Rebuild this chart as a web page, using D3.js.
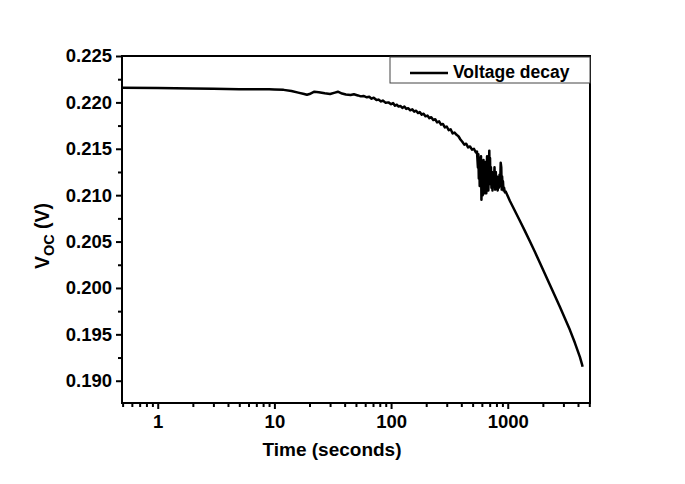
<!DOCTYPE html>
<html>
<head>
<meta charset="utf-8">
<title>Voltage decay</title>
<script src="https://d3js.org/d3.v7.min.js"></script>
<style>
body { margin: 0; background: #fff; }
text { font-family: "Liberation Sans", Arial, sans-serif; font-weight: bold; }
</style>
</head>
<body>
<div id="chart"></div>
<script>
// data
var times = [0.5, 1, 2, 3, 5, 7, 9, 10, 12, 14, 16, 18, 19, 20, 22, 24, 27, 30, 33, 35, 38, 41, 45, 48, 52, 55, 58, 62, 65, 68, 71, 75, 78, 82, 85, 90, 95,
  100, 104, 108, 112, 116, 120, 125, 130, 135, 140, 146, 152, 158, 164, 170, 176, 183, 190, 197, 205, 213, 221, 230, 239, 248, 258, 268, 278, 289, 300, 312, 324, 337, 350, 364, 378, 393, 408, 424, 440, 457, 475, 494, 513, 533, 545,
  555, 560, 565, 570, 575, 580, 585, 590, 595, 600, 605, 610, 615, 620, 625, 630, 635, 640, 645, 650, 655, 660, 665, 670, 675, 682, 690, 695, 700, 705, 710, 718, 725, 732, 740, 750, 760, 770, 780, 790, 800, 810, 820, 830, 840, 850, 860, 870, 880, 888, 895, 903, 910, 920, 930, 945, 960,
  1044, 1153, 1273, 1405, 1551, 1711, 1889, 2085, 2301, 2540, 2802, 3093, 3414, 3768, 4158, 4325, 4380];
var voltage = [0.22158, 0.22155, 0.22150, 0.22146, 0.22142, 0.22141, 0.22142, 0.22140, 0.22135, 0.22123, 0.22105, 0.22090, 0.22082, 0.22090, 0.22115, 0.22110, 0.22098, 0.22090, 0.22105, 0.22115, 0.22095, 0.22085, 0.22080, 0.22088, 0.22075, 0.22065, 0.22070, 0.22055, 0.22060, 0.22040, 0.22050, 0.22025, 0.22030, 0.22010, 0.22020, 0.21995, 0.22000,
  0.21980, 0.21992, 0.21965, 0.21975, 0.21955, 0.21962, 0.21940, 0.21955, 0.21930, 0.21938, 0.21915, 0.21925, 0.21900, 0.21910, 0.21885, 0.21895, 0.21868, 0.21878, 0.21850, 0.21858, 0.21830, 0.21840, 0.21810, 0.21818, 0.21785, 0.21795, 0.21760, 0.21768, 0.21730, 0.21740, 0.21700, 0.21710, 0.21665, 0.21675, 0.21650, 0.21635, 0.21600, 0.21575, 0.21545, 0.21555, 0.21515, 0.21525, 0.21490, 0.21500, 0.21460, 0.21470,
  0.21300, 0.21440, 0.21180, 0.21400, 0.21100, 0.21350, 0.21200, 0.21420, 0.20950, 0.21250, 0.21300, 0.21000, 0.21150, 0.21380, 0.21080, 0.21300, 0.21020, 0.21250, 0.21100, 0.21360, 0.21020, 0.21200, 0.21420, 0.21100, 0.21300, 0.21050, 0.21320, 0.21480, 0.21150, 0.21400, 0.21120, 0.21300, 0.21080, 0.21250, 0.21050, 0.21220, 0.21120, 0.21300, 0.21060, 0.21250, 0.21080, 0.21200, 0.21050, 0.21180, 0.21080, 0.21220, 0.21100, 0.21350, 0.21300, 0.21060, 0.21200, 0.21080, 0.21150, 0.21050, 0.21080, 0.21030, 0.21040,
  0.20937, 0.20829, 0.20721, 0.20613, 0.20500, 0.20387, 0.20269, 0.20150, 0.20031, 0.19913, 0.19794, 0.19670, 0.19546, 0.19406, 0.19255, 0.19180, 0.19150];
var xTicks = [1, 10, 100, 1000];
var yTicks = [0.190, 0.195, 0.200, 0.205, 0.210, 0.215, 0.220, 0.225];
var seriesName = "Voltage decay";

var data = times.map(function(t, i) { return {t: t, v: voltage[i]}; });

var margin = {top: 56, right: 95, bottom: 81, left: 122},
    width = 685 - margin.left - margin.right,
    height = 484 - margin.top - margin.bottom;

var svg = d3.select("#chart").append("svg")
    .attr("width", 685)
    .attr("height", 484)
  .append("g")
    .attr("transform", "translate(" + margin.left + "," + margin.top + ")");

var x = d3.scaleLog().domain([0.494, 5070]).range([0, width]);
var y = d3.scaleLinear().domain([0.1876, 0.225]).range([height, 0]);

// minor ticks
var xMinor = [];
[0.1, 1, 10, 100, 1000].forEach(function(d) {
  for (var k = 2; k <= 9; k++) {
    var v = d * k;
    if (v >= 0.494 && v <= 5070) xMinor.push(v);
  }
});
var yMinor = yTicks.slice(0, -1).map(function(d) { return d + 0.0025; });

svg.append("g")
    .attr("transform", "translate(0," + height + ")")
    .call(d3.axisBottom(x).tickValues(xMinor).tickSize(4).tickFormat(""))
    .call(function(g) { g.select(".domain").remove(); g.selectAll("line").attr("stroke-width", 2); });

svg.append("g")
    .call(d3.axisLeft(y).tickValues(yMinor).tickSize(4).tickFormat(""))
    .call(function(g) { g.select(".domain").remove(); g.selectAll("line").attr("stroke-width", 2); });

var xAxis = svg.append("g")
    .attr("transform", "translate(0," + height + ")")
    .call(d3.axisBottom(x).tickValues(xTicks).tickSize(6).tickPadding(6).tickFormat(d3.format("d")));
xAxis.select(".domain").remove();
xAxis.selectAll("line").attr("stroke-width", 2);
xAxis.selectAll("text").style("font-size", "18.5px").attr("fill", "#000");

var yAxis = svg.append("g")
    .call(d3.axisLeft(y).tickValues(yTicks).tickSize(6).tickPadding(4).tickFormat(d3.format(".3f")));
yAxis.select(".domain").remove();
yAxis.selectAll("line").attr("stroke-width", 2);
yAxis.selectAll("text").style("font-size", "18.5px").attr("fill", "#000");

// frame
svg.append("rect")
    .attr("width", width)
    .attr("height", height)
    .attr("fill", "none")
    .attr("stroke", "#000")
    .attr("stroke-width", 2);

// curve
svg.append("path")
    .datum(data)
    .attr("fill", "none")
    .attr("stroke", "#000")
    .attr("stroke-width", 2.5)
    .attr("stroke-linejoin", "round")
    .attr("d", d3.line().x(function(d) { return x(d.t); }).y(function(d) { return y(d.v); }));

// legend
var lg = svg.append("g").attr("transform", "translate(" + (width - 200) + ",1)");
lg.append("rect")
    .attr("width", 200)
    .attr("height", 26)
    .attr("fill", "#fff")
    .attr("stroke", "#444")
    .attr("stroke-width", 1);
lg.append("line")
    .attr("x1", 20).attr("x2", 58)
    .attr("y1", 16).attr("y2", 16)
    .attr("stroke", "#000").attr("stroke-width", 2.5);
lg.append("text")
    .attr("x", 63).attr("y", 21)
    .style("font-size", "17.5px")
    .text(seriesName);

// axis titles
svg.append("text")
    .attr("x", 332 - margin.left)
    .attr("y", height + 53)
    .attr("text-anchor", "middle")
    .style("font-size", "19px")
    .text("Time (seconds)");

var yl = svg.append("text")
    .attr("transform", "translate(" + (49 - margin.left) + "," + (236 - margin.top) + ") rotate(-90)")
    .attr("text-anchor", "middle")
    .style("font-size", "19.5px");
yl.append("tspan").text("V");
yl.append("tspan").attr("dy", 5).style("font-size", "14.5px").text("OC");
yl.append("tspan").attr("dy", -5).text(" (V)");
</script>
</body>
</html>
